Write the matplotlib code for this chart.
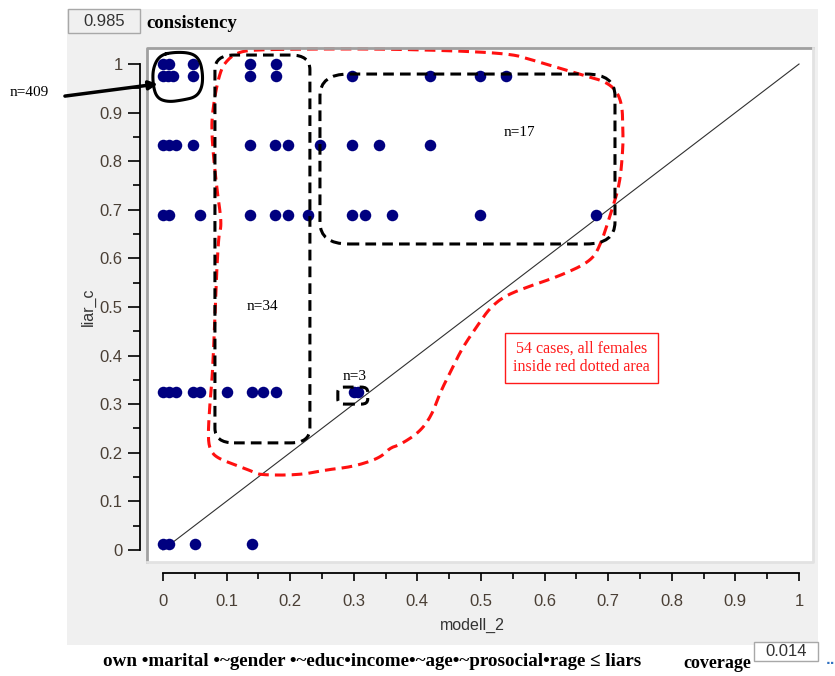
import matplotlib
matplotlib.use("Agg")
import matplotlib.pyplot as plt
import numpy as np
from matplotlib.patches import FancyBboxPatch, Rectangle

# liar_c levels and the modell_2 values of the cases at each level
liar_levels = [1.0, 0.975, 0.833, 0.69, 0.325, 0.012]
modell_by_level = [
    [0, 0.01, 0.047, 0.137, 0.178],
    [0, 0.008, 0.016, 0.048, 0.137, 0.178, 0.297, 0.42, 0.498, 0.539],
    [0, 0.01, 0.02, 0.047, 0.137, 0.176, 0.197, 0.247, 0.297, 0.34, 0.42],
    [0, 0.01, 0.058, 0.137, 0.176, 0.197, 0.228, 0.297, 0.318, 0.36, 0.498, 0.681],
    [0, 0.01, 0.02, 0.047, 0.058, 0.1, 0.14, 0.157, 0.178, 0.3, 0.307],
    [0, 0.01, 0.05, 0.14],
]
tick_values = [0, 0.1, 0.2, 0.3, 0.4, 0.5, 0.6, 0.7, 0.8, 0.9, 1]
tick_labels = ["0", "0.1", "0.2", "0.3", "0.4", "0.5", "0.6", "0.7", "0.8", "0.9", "1"]
consistency = "0.985"
coverage = "0.014"

modell_2 = [x for xs in modell_by_level for x in xs]
liar_c = [y for y, xs in zip(liar_levels, modell_by_level) for _ in xs]

# hand drawn outlines (data coordinates)
red_area = [
    (0.1415, 1.029), (0.2154, 1.031), (0.3726, 1.031), (0.5409, 1.023),
    (0.5818, 1.008), (0.6604, 0.977), (0.7028, 0.961), (0.7217, 0.926),
    (0.7233, 0.858), (0.7233, 0.829), (0.7186, 0.755), (0.7060, 0.700),
    (0.6871, 0.624), (0.6714, 0.593), (0.6242, 0.564), (0.5770, 0.543),
    (0.5377, 0.523), (0.5142, 0.498), (0.4984, 0.469), (0.4717, 0.418),
    (0.4560, 0.377), (0.4355, 0.323), (0.4230, 0.278), (0.4041, 0.243),
    (0.3726, 0.216), (0.3569, 0.210), (0.3412, 0.189), (0.2987, 0.171),
    (0.2579, 0.165), (0.2154, 0.154), (0.1525, 0.154), (0.1415, 0.161),
    (0.1211, 0.171), (0.0849, 0.189), (0.0739, 0.206), (0.0708, 0.233),
    (0.0739, 0.303), (0.0786, 0.370), (0.0865, 0.644), (0.0928, 0.669),
    (0.0849, 0.741), (0.0770, 0.844), (0.0770, 0.899), (0.0896, 0.988),
    (0.1053, 1.014), (0.1211, 1.025), (0.1415, 1.029),
]
hand_loop = [
    (-0.0047, 1.0185), (0.0189, 1.0247), (0.0456, 1.0226), (0.0582, 1.0082),
    (0.0629, 0.9774), (0.0613, 0.9506), (0.0519, 0.9321), (0.0314, 0.9259),
    (0.0079, 0.9218), (-0.0094, 0.9300), (-0.0157, 0.9568), (-0.0157, 0.9918),
    (-0.0047, 1.0185),
]
groups = [
    # x0, y0, x1, y1, corner
    (0.0818, 0.2202, 0.2311, 1.0185, 0.03),
    (0.2469, 0.6296, 0.7107, 0.9794, 0.045),
    (0.2750, 0.3000, 0.3220, 0.3350, 0.01),
]


def chaikin(points, rounds=3):
    pts = np.asarray(points, dtype=float)
    for _ in range(rounds):
        q = 0.75 * pts[:-1] + 0.25 * pts[1:]
        r = 0.25 * pts[:-1] + 0.75 * pts[1:]
        new = np.empty((2 * len(q), 2))
        new[0::2] = q
        new[1::2] = r
        pts = np.vstack([new, new[:1]])
    return pts


sans = "Liberation Sans"
serif = "Liberation Serif"

fig = plt.figure(figsize=(8.35, 6.76), dpi=100)
fig.patches.append(Rectangle((67 / 835, 1 - 645 / 676), 751 / 835, 636 / 676,
                             transform=fig.transFigure, facecolor="#f0f0f0",
                             edgecolor="none", zorder=-10))

ax = fig.add_axes([147 / 835, 1 - 562 / 676, 666 / 835, 514 / 676])
ax.set_facecolor("white")
ax.set_xlim(-0.025, 1.022)
ax.set_ylim(-0.025, 1.033)

# sunken white frame
ax.plot([0, 0, 1], [0, 1, 1], transform=ax.transAxes, color="#a0a0a0", lw=2,
        clip_on=False, zorder=5)
ax.plot([0, 1, 1], [0, 0, 1], transform=ax.transAxes, color="#e2e2e2", lw=2,
        clip_on=False, zorder=5)

for side in ["top", "right"]:
    ax.spines[side].set_visible(False)
ax.spines["left"].set_position(("outward", 5))
ax.spines["bottom"].set_position(("outward", 8))
ax.spines["left"].set_bounds(0, 1)
ax.spines["bottom"].set_bounds(0, 1)
ax.spines["left"].set_linewidth(1.3)
ax.spines["bottom"].set_linewidth(1.3)

label_color = "#4a3f35"
ax.set_xticks(tick_values)
ax.set_xticklabels(tick_labels)
ax.set_yticks(tick_values)
ax.set_yticklabels(tick_labels)
ax.set_xticks(np.arange(0.05, 1, 0.1), minor=True)
ax.set_yticks(np.arange(0.05, 1, 0.1), minor=True)
ax.tick_params(axis="y", which="major", length=9, width=1.2, pad=3.5,
               labelsize=12, labelcolor=label_color)
ax.tick_params(axis="y", which="minor", length=5, width=1.2)
ax.tick_params(axis="x", which="major", length=6, width=1.2, pad=9,
               labelsize=12, labelcolor=label_color)
ax.tick_params(axis="x", which="minor", length=4, width=1.2)
for lab in ax.get_xticklabels() + ax.get_yticklabels():
    lab.set_family(sans)

ax.plot([0, 1], [0, 1], color="#303030", lw=0.8, zorder=2)
ax.plot(modell_2, liar_c, "o", color="#000080", ms=8.3, mec="none", zorder=3)

# annotations
red = chaikin(red_area)
ax.plot(red[:, 0], red[:, 1], color="#ff1010", lw=2.2, ls=(0, (3.5, 2)),
        clip_on=False, zorder=4)
loop = chaikin(hand_loop)
ax.plot(loop[:, 0], loop[:, 1], color="black", lw=2.2, clip_on=False, zorder=4)
for x0, y0, x1, y1, r in groups:
    ax.add_patch(FancyBboxPatch((x0, y0), x1 - x0, y1 - y0,
                                boxstyle=f"round,pad=0,rounding_size={r}",
                                fill=False, edgecolor="black", lw=2.2,
                                ls=(0, (3.5, 2)), zorder=4, clip_on=False))

ax.annotate("", xy=(-0.008, 0.959), xytext=(-0.154, 0.934),
            arrowprops=dict(arrowstyle="-|>,head_length=0.5,head_width=0.25",
                            color="black", lw=2.5, shrinkA=0, shrinkB=0),
            annotation_clip=False, zorder=6)

ax.text(0.561, 0.860, "n=17", family=serif, fontsize=11, ha="center", va="center")
ax.text(0.156, 0.500, "n=34", family=serif, fontsize=11, ha="center", va="center")
ax.text(0.302, 0.357, "n=3", family=serif, fontsize=11, ha="center", va="center")
ax.text(0.6575, 0.395, "54 cases, all females\ninside red dotted area",
        family=serif, fontsize=11.5, color="#ff1a1a", ha="center", va="center",
        linespacing=1.15,
        bbox=dict(boxstyle="square,pad=0.5", fc="white", ec="#ff1a1a", lw=1))

fig.text(29 / 835, 1 - 92 / 676, "n=409", family=serif, fontsize=11,
         ha="center", va="center")

fig.text(88 / 835, 1 - 307 / 676, "liar_c", family=sans,
         fontsize=11.5, color="#333333", rotation=90, ha="center", va="center")
fig.text(472 / 835, 1 - 625 / 676, "modell_2", family=sans,
         fontsize=11.5, color="#333333", ha="center", va="center")

# consistency / coverage readouts
fig.patches.append(Rectangle((68 / 835, 1 - 33 / 676), 72 / 835, 24 / 676,
                             transform=fig.transFigure, facecolor="#f0f0f0",
                             edgecolor="#a8a8a8", lw=1))
fig.text(104 / 835, 1 - 21 / 676, consistency, family=sans,
         fontsize=12, color="#333333", ha="center", va="center")
fig.text(146 / 835, 1 - 23 / 676, "consistency", family=serif, weight="bold",
         fontsize=13.5, ha="left", va="center")

fig.patches.append(Rectangle((754 / 835, 1 - 661 / 676), 64 / 835, 19 / 676,
                             transform=fig.transFigure, facecolor="white",
                             edgecolor="#a8a8a8", lw=1))
fig.text(786 / 835, 1 - 652 / 676, coverage, family=sans,
         fontsize=12, color="#333333", ha="center", va="center")
fig.text(683 / 835, 1 - 664 / 676, "coverage", family=serif, weight="bold",
         fontsize=13, ha="left", va="center")
fig.text(103 / 835, 1 - 661 / 676,
         "own \u2022marital \u2022~gender \u2022~educ\u2022income\u2022~age"
         "\u2022~prosocial\u2022rage \u2264 liars",
         family=[serif, "DejaVu Serif"], weight="bold", fontsize=13.7,
         ha="left", va="center")
fig.text(826 / 835, 1 - 660 / 676, "..", color="#3070c0", fontsize=9,
         weight="bold", ha="left", va="center")

fig.savefig("out.png", dpi=100)
